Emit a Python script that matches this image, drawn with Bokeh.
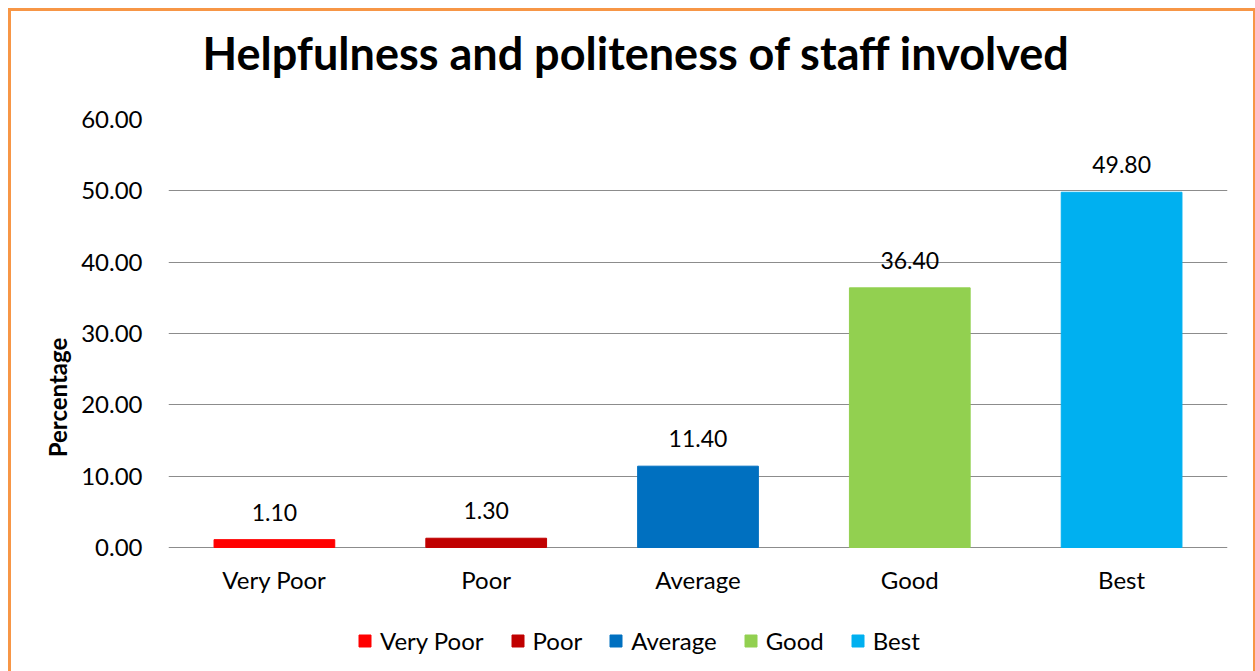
from bokeh.plotting import figure
from bokeh.models import ColumnDataSource, LabelSet, Legend, LegendItem, Range1d, FactorRange, NumeralTickFormatter, FixedTicker, Title
from bokeh.core.properties import value
from bokeh.embed import file_html
from bokeh.resources import INLINE

categories = ["Very Poor", "Poor", "Average", "Good", "Best"]
values = [1.10, 1.30, 11.40, 36.40, 49.80]
colors = ["#FF0000", "#C00000", "#0070C0", "#92D050", "#00B0F0"]
labels = ["%.2f" % v for v in values]
yticks = [0, 10, 20, 30, 40, 50, 60]

FONT = "Lato"
Y_MAX = 60
Y_BELOW = -17.944  # room under the baseline for category labels and legend

source = ColumnDataSource(dict(cat=categories, val=values, color=colors, lab=labels))

p = figure(x_range=FactorRange(*categories, range_padding=0), y_range=Range1d(Y_BELOW, Y_MAX),
           frame_width=1059, frame_height=556, output_backend="svg", toolbar_location=None,
           min_border_left=157, min_border_right=26, min_border_top=108, min_border_bottom=5)
p.styles = {"border": "3px solid #F79646", "margin-left": "8px", "margin-top": "8px"}

p.title.text = "Helpfulness and politeness of staff involved"
p.title.text_font = FONT
p.title.text_font_size = "45px"
p.title.text_font_style = "bold"
p.title.text_color = "#000000"
p.title.align = "left"
p.title.offset = 34
p.title.standoff = 0

# spacer between the frame and the main title
p.add_layout(Title(text=" ", text_font_size="1px", standoff=37), "above")

renderers = []
for i, c in enumerate(categories):
    r = p.vbar(x=[c], top=[values[i]], width=0.57, color=colors[i])
    renderers.append(r)

# value labels above bars
p.add_layout(LabelSet(x="cat", y="val", text="lab", source=source, y_offset=19,
                      text_align="center", text_baseline="alphabetic",
                      text_font=value(FONT), text_font_size="23px", text_color="#000000"))

# category labels under the baseline
p.add_layout(LabelSet(x="cat", y=0, text="cat", source=source, y_offset=-42,
                      text_align="center", text_baseline="alphabetic",
                      text_font=value(FONT), text_font_size="24px", text_color="#000000"))

p.yaxis.ticker = FixedTicker(ticks=yticks)
p.yaxis.bounds = (0, Y_MAX)
p.yaxis.formatter = NumeralTickFormatter(format="0.00")
p.yaxis.axis_line_color = None
p.yaxis.major_tick_line_color = None
p.yaxis.minor_tick_line_color = None
p.yaxis.major_label_text_font = FONT
p.yaxis.major_label_text_font_size = "24px"
p.yaxis.major_label_text_color = "#000000"
p.yaxis.major_label_standoff = 20
p.yaxis.axis_label = "Percentage"
p.yaxis.axis_label_text_font = FONT
p.yaxis.axis_label_text_font_size = "24px"
p.yaxis.axis_label_text_font_style = "bold"
p.yaxis.axis_label_text_color = "#000000"
p.yaxis.axis_label_standoff = 6

p.xaxis.visible = False

p.xgrid.grid_line_color = None
p.ygrid.grid_line_color = "#8c8c8c"
p.ygrid.grid_line_width = 1
p.outline_line_color = None

legend = Legend(items=[LegendItem(label=c, renderers=[r]) for c, r in zip(categories, renderers)],
                orientation="horizontal", location=(189, 20), label_text_font=FONT,
                label_text_font_size="24px", label_text_color="#000000",
                glyph_width=15, glyph_height=15, spacing=26,
                label_standoff=8, border_line_color=None, background_fill_alpha=0,
                margin=0, padding=4)
p.add_layout(legend, "center")

open("out.html", "w").write(file_html(p, INLINE))
